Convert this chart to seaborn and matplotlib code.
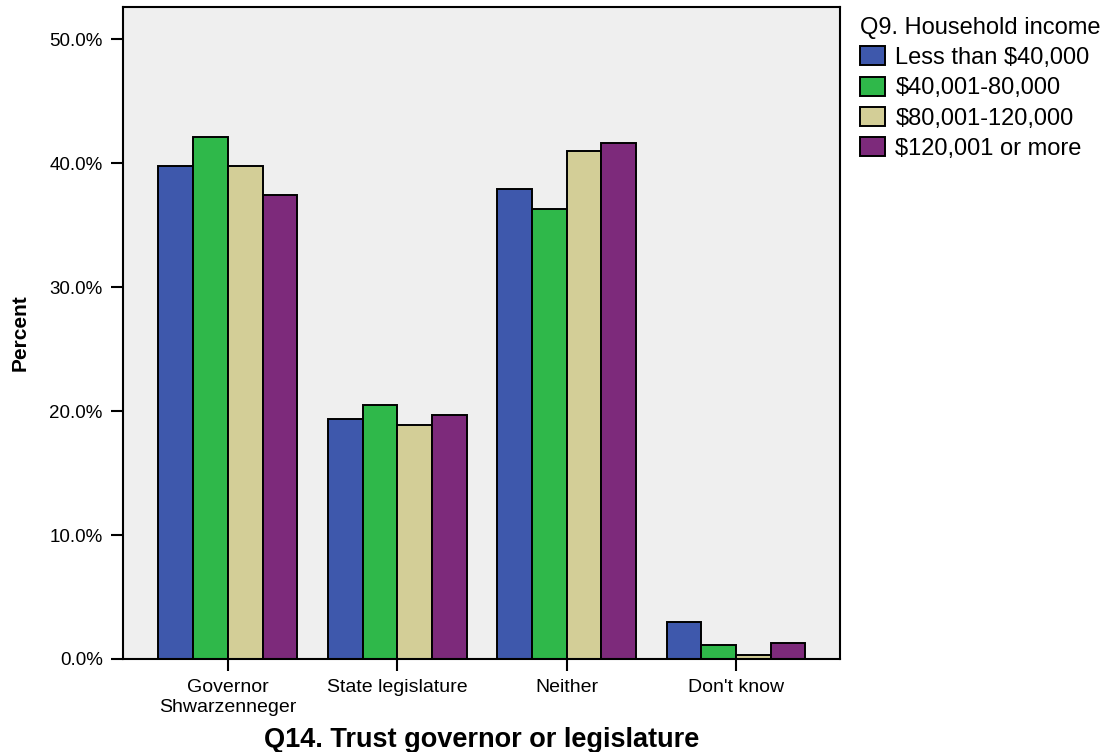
import pandas as pd
import matplotlib.pyplot as plt
import seaborn as sns
from matplotlib.patches import Patch

# data
categories = ["Governor\nShwarzenneger", "State legislature", "Neither", "Don't know"]
income_groups = ["Less than $40,000", "$40,001-80,000", "$80,001-120,000", "$120,001 or more"]
less_40k = [39.8, 19.4, 37.9, 2.95]
from_40k_80k = [42.1, 20.5, 36.3, 1.15]
from_80k_120k = [39.8, 18.9, 41.0, 0.3]
over_120k = [37.4, 19.7, 41.6, 1.3]
colors = ["#3e58ac", "#2fb84a", "#d3ce97", "#7d2a7b"]

rows = []
for group, vals in zip(income_groups, [less_40k, from_40k_80k, from_80k_120k, over_120k]):
    for cat, v in zip(categories, vals):
        rows.append({"Trust": cat, "Income": group, "Percent": v})
df = pd.DataFrame(rows)

sns.set_style("ticks")
plt.rcParams["font.family"] = ["Liberation Sans", "DejaVu Sans"]
plt.rcParams["text.color"] = "black"
plt.rcParams["axes.labelcolor"] = "black"

fig = plt.figure(figsize=(11.07, 7.52), dpi=100)
ax = fig.add_axes([0.111, 0.1237, 0.648, 0.867])
ax.set_facecolor("#efefef")

sns.barplot(
    data=df, x="Trust", y="Percent", hue="Income",
    order=categories, hue_order=income_groups,
    palette=colors, saturation=1, width=0.82,
    edgecolor="black", linewidth=1.4, ax=ax
)
ax.legend_.remove()

ax.set_xlim(-0.62, 3.615)
ax.set_ylim(0, 52.6)
ax.set_yticks([0, 10, 20, 30, 40, 50])
ax.set_yticklabels(["0.0%", "10.0%", "20.0%", "30.0%", "40.0%", "50.0%"])
ax.tick_params(axis="both", direction="out", length=8.5, width=1.5, colors="black",
               labelsize=13.5, pad=6)
ax.tick_params(axis="x", labelsize=14)
for s in ax.spines.values():
    s.set_visible(True)
    s.set_linewidth(1.5)
    s.set_color("black")

ax.set_ylabel("Percent", fontsize=15, fontweight="bold", labelpad=14)
ax.set_xlabel("Q14. Trust governor or legislature", fontsize=19.5, fontweight="bold", labelpad=8)

handles = [Patch(facecolor=c, edgecolor="black", linewidth=1.4) for c in colors]
fig.legend(handles, income_groups, title="Q9. Household income",
           loc="upper left", bbox_to_anchor=(0.762, 1.0), frameon=False,
           fontsize=17, title_fontsize=17, handlelength=1.05, handleheight=0.85,
           handletextpad=0.45, labelspacing=0.33, borderaxespad=0.3,
           alignment="left")

fig.savefig("out.png", dpi=100)
